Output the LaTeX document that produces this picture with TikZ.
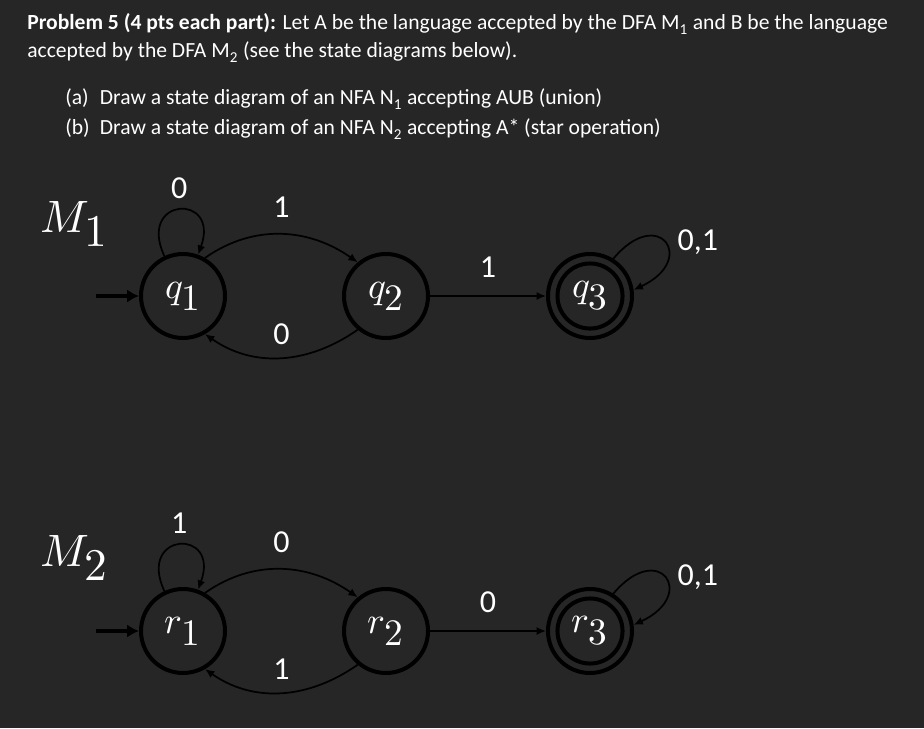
\documentclass[tikz,border=0pt]{standalone}
\usepackage{fontspec}
\usepackage{unicode-math}
\setmainfont{Carlito}
\usetikzlibrary{arrows.meta,positioning}
\definecolor{bgcol}{RGB}{38,38,38}

\begin{document}
\begin{tikzpicture}[x=0.75pt,y=-0.75pt,
  txt/.style={text=white,inner sep=0pt,font=\fontsize{16.2pt}{21pt}\selectfont},
  state/.style={circle,draw=black,line width=3pt,minimum size=63pt,
                inner sep=0pt,text=white,font=\fontsize{28pt}{28pt}\selectfont},
  accept/.style={state,append after command={\pgfextra{\draw[line width=3pt,black]
                 (\tikzlastnode.center) circle (24.4pt);}}},
  trans/.style={draw=black,line width=1.3pt,-{Latex[length=7pt,width=6pt]}},
  start/.style={draw=black,line width=3pt,-{Latex[length=9pt,width=10pt]}},
  lbl/.style={text=white,inner sep=2pt,font=\fontsize{24pt}{24pt}\selectfont},
  machine/.style={text=white,font=\fontsize{34pt}{34pt}\selectfont}]
\fill[bgcol] (0,0) rectangle (924,728);
\useasboundingbox (0,0) rectangle (924,728);

% problem text
\node[txt,anchor=base west] (head1) at (27,29) {\textbf{Problem 5 (4 pts each part):} Let A be the language accepted by the DFA M\textsubscript{1} and B be the language};
\node[txt,anchor=base west] (head2) at (27,57) {accepted by the DFA M\textsubscript{2} (see the state diagrams below).};
\node[txt,anchor=base west] (parta) at (65,104) {\makebox[26pt][l]{(a)}Draw a state diagram of an NFA N\textsubscript{1} accepting AUB (union)};
\node[txt,anchor=base west] (partb) at (65,134) {\makebox[26pt][l]{(b)}Draw a state diagram of an NFA N\textsubscript{2} accepting A* (star operation)};

% M1
\node[machine] (m1) at (74,224) {$M_{\textstyle 1}$};
\node[state] (q1) at (183,296) {$q_{\textstyle 1}$};
\node[state] (q2) at (386,296) {$q_{\textstyle 2}$};
\node[accept] (q3) at (590,296) {$q_{\textstyle 3}$};
\coordinate (q1in) at (96,296);

\draw[start] (q1in) -- (q1);
\draw[trans] (q1) to[out=115,in=70,looseness=5] node[lbl,above=6pt] {0} (q1);
\draw[trans] (q1.60) to[out=35,in=145] node[lbl,above=10pt] {1} (q2.130);
\draw[trans] (q2.-130) to[out=-145,in=-35] node[lbl,above=7pt] {0} (q1.-60);
\draw[trans] (q2) -- node[lbl,above=11pt] {1} (q3);
\draw[trans] (q3.58) to[out=50,in=25,looseness=4.9] node[lbl,right=7pt] {0,1} (q3.8);

% M2
\node[machine] (m2) at (74,558) {$M_{\textstyle 2}$};
\node[state] (r1) at (183,631) {$r_{\textstyle 1}$};
\node[state] (r2) at (386,631) {$r_{\textstyle 2}$};
\node[accept] (r3) at (590,631) {$r_{\textstyle 3}$};
\coordinate (r1in) at (96,631);

\draw[start] (r1in) -- (r1);
\draw[trans] (r1) to[out=115,in=70,looseness=5] node[lbl,above=6pt] {1} (r1);
\draw[trans] (r1.60) to[out=35,in=145] node[lbl,above=10pt] {0} (r2.130);
\draw[trans] (r2.-130) to[out=-145,in=-35] node[lbl,above=7pt] {1} (r1.-60);
\draw[trans] (r2) -- node[lbl,above=11pt] {0} (r3);
\draw[trans] (r3.58) to[out=50,in=25,looseness=4.9] node[lbl,right=7pt] {0,1} (r3.8);
\end{tikzpicture}
\end{document}
